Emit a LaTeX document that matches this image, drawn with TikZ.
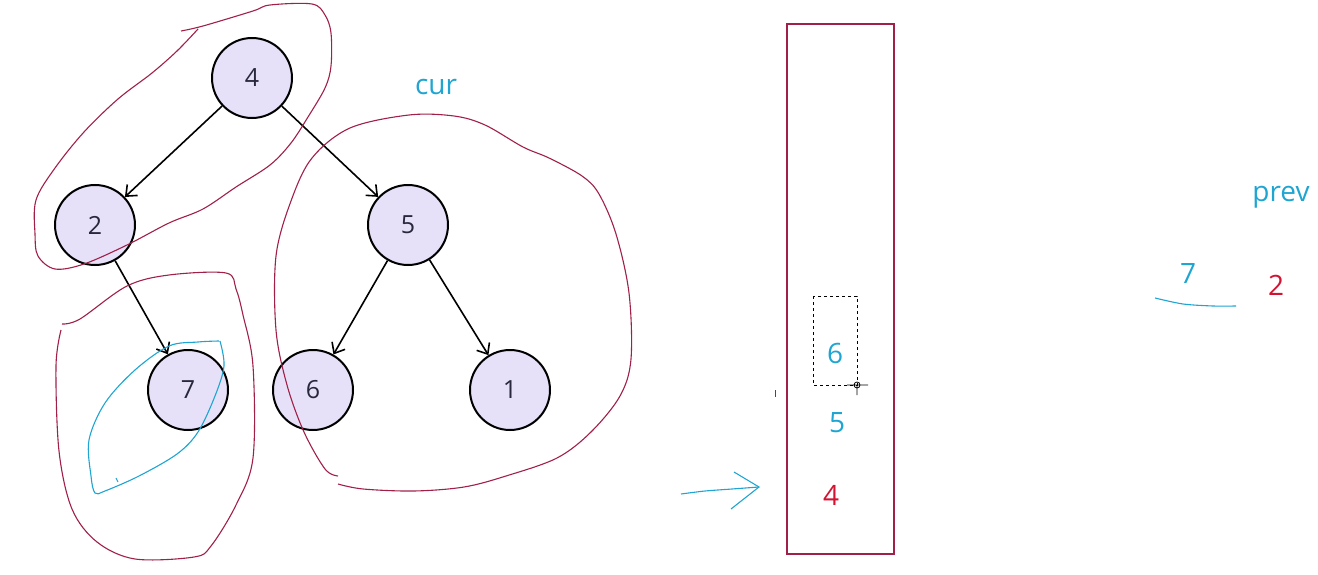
\documentclass[tikz,border=0pt]{standalone}
\usepackage{fontspec}
\setmainfont{Open Sans}
\usetikzlibrary{arrows.meta}
\definecolor{lav}{RGB}{230,225,248}
\definecolor{ink}{RGB}{160,32,72}
\definecolor{hand}{RGB}{30,165,210}
\definecolor{hot}{RGB}{210,20,50}
\definecolor{num}{RGB}{40,40,60}
\tikzset{
  tnode/.style={circle,draw,line width=2pt,fill=lav,minimum size=80pt,inner sep=0pt,
    text=num,font=\fontsize{25}{25}\selectfont},
  edge/.style={-{Straight Barb[length=9pt,width=15pt]},line width=1.6pt},
  pen/.style={ink,line width=1.1pt},
  cyanpen/.style={hand,line width=1.1pt},
  lbl/.style={font=\fontsize{28}{28}\selectfont,inner sep=0pt}
}
\begin{document}
\begin{tikzpicture}[x=1pt,y=-1pt]
    \useasboundingbox (0,0) rectangle (1318,575);

    \node[tnode] (n4) at (252,78) {4};
    \node[tnode] (n2) at (95,225) {2};
    \node[tnode] (n5) at (408,225) {5};
    \node[tnode] (n7) at (188,390) {7};
    \node[tnode] (n6) at (313,390) {6};
    \node[tnode] (n1) at (510,390) {1};

    \draw[edge] (n4) -- (n2);
    \draw[edge] (n4) -- (n5);
    \draw[edge] (n2) -- (n7);
    \draw[edge] (n5) -- (n6);
    \draw[edge] (n5) -- (n1);

    \node[lbl,text=hand] (cur) at (436,87) {cur};
    \node[lbl,text=hand] (prev) at (1281,197) {prev};

    % freehand marks
    \draw[pen] plot[smooth,tension=0.55] coordinates {(181,31) (203,26) (253,11) (270,5) (312,4)
      (325,15) (331,33) (331,66) (325,88) (308,117) (291,143) (270,165) (236,187) (203,209)
      (169,223) (127,245) (84,264) (55,269) (38,256) (35,234) (36,200) (55,168) (84,132)
      (118,99) (152,73) (177,51) (198,29)};
    \draw[pen] plot[smooth,tension=0.55] coordinates {(62,324) (80,319) (127,286) (169,275)
      (226,273) (236,289) (243,315) (253,366) (253,458) (236,505) (211,546) (194,557)
      (135,559) (97,542) (72,509) (59,451) (56,366) (61,330)};
    \draw[pen] plot[smooth,tension=0.55] coordinates {(338,476) (325,469) (304,432) (287,385)
      (276,330) (276,256) (291,201) (312,158) (350,128) (409,115) (454,116) (485,125)
      (523,147) (549,158) (582,176) (599,194) (616,234) (629,293) (631,359) (620,396)
      (591,432) (557,458) (506,476) (464,487) (414,491) (363,489) (338,484)};
    \draw[cyanpen] plot[smooth,tension=0.55] coordinates {(219,341) (198,342) (169,346)
      (135,370) (105,403) (89,440) (91,476) (95,493) (105,491) (139,476) (177,454)
      (198,432) (215,396) (224,366) (220,341)};
    \draw[cyanpen] (116,478) -- (118,482);

    % stack
    \draw[ink,line width=1.3pt] (787,24) rectangle (894,554);
    \draw[dashed,line width=1pt] (813,296) rectangle (857,385);
    \draw[line width=0.8pt] (857,385) circle (3pt) (847,385) -- (868,385) (857,385) -- (857,395);
    \draw[ink,line width=1pt] (775,390) -- (775,397);
    \node[lbl,text=hand] (s6) at (835,353) {6};
    \node[lbl,text=hand] (s5) at (837,423) {5};
    \node[lbl,text=hot] (s4) at (831,495) {4};
    \draw[cyanpen] plot[smooth,tension=0.4] coordinates {(681,494) (705,491) (732,489) (759,487)};
    \draw[cyanpen] (734,472) -- (759,487) -- (731,509);

    \node[lbl,text=hand] (p7) at (1188,274) {7};
    \node[lbl,text=hot] (p2) at (1276,285) {2};
    \draw[cyanpen] plot[smooth,tension=0.5] coordinates {(1155,298) (1183,304) (1213,306) (1236,306)};
\end{tikzpicture}
\end{document}
